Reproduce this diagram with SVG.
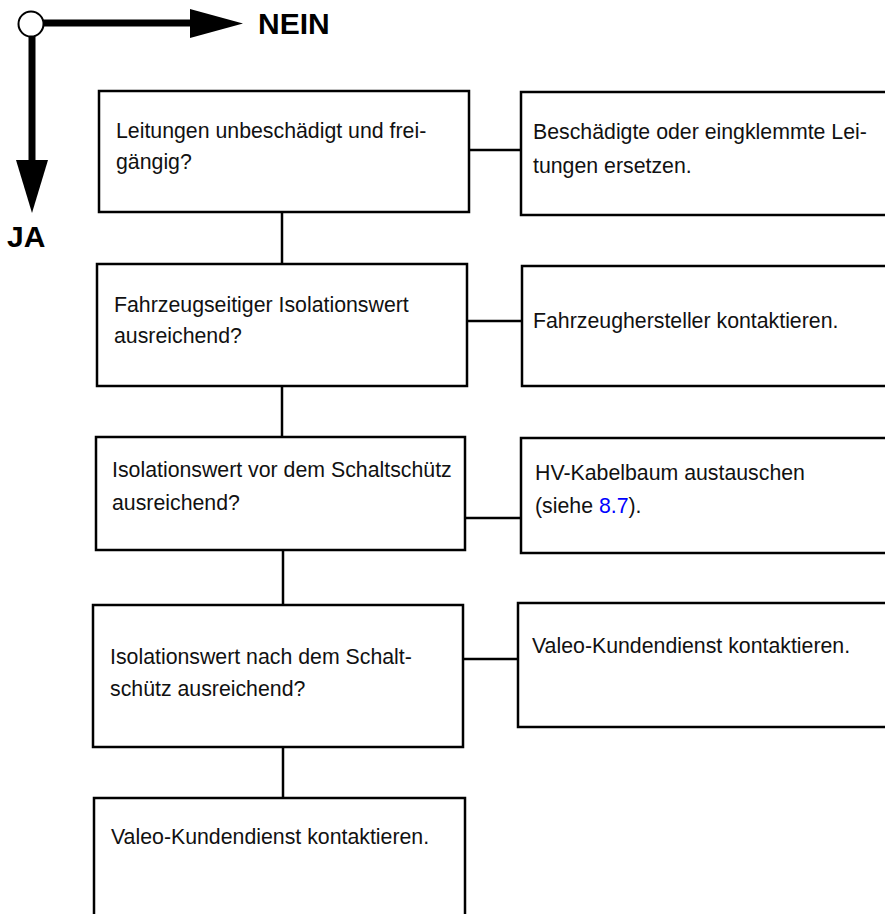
<svg xmlns="http://www.w3.org/2000/svg" width="885" height="914" viewBox="0 0 885 914">
<style>
.box{fill:#fff;stroke:#000;stroke-width:2.5}
.t{font-family:"Liberation Sans",Arial,sans-serif;font-size:21.3px;fill:#111}
.lbl{font-family:"Liberation Sans",Arial,sans-serif;font-size:30px;font-weight:bold;fill:#000}
.c{stroke:#000;stroke-width:2.5;fill:none}
.link{fill:#0000ff}
</style>
<rect width="885" height="914" fill="#fff"/>
<g id="legend">
<line x1="43" y1="23" x2="193" y2="23" stroke="#000" stroke-width="7"/>
<polygon points="190,9 243,23.5 190,38" fill="#000"/>
<line x1="32" y1="35" x2="32" y2="163" stroke="#000" stroke-width="7"/>
<polygon points="16,160 48,160 32,213" fill="#000"/>
<circle cx="31" cy="24" r="12.5" fill="#fff" stroke="#000" stroke-width="2"/>
<text class="lbl" x="258" y="34">NEIN</text>
<text class="lbl" x="7" y="247">JA</text>
</g>
<g id="connectors">
<line class="c" x1="282" y1="212" x2="282" y2="264"/>
<line class="c" x1="469" y1="150" x2="521" y2="150"/>
<line class="c" x1="467" y1="321" x2="522" y2="321"/>
<line class="c" x1="282" y1="386" x2="282" y2="437"/>
<line class="c" x1="465" y1="518" x2="521" y2="518"/>
<line class="c" x1="283" y1="550" x2="283" y2="605"/>
<line class="c" x1="463" y1="659" x2="518" y2="659"/>
<line class="c" x1="283" y1="747" x2="283" y2="798"/>
</g>
<g id="q1">
<rect class="box" x="99" y="91" width="370" height="121"/>
<text class="t" x="116" y="138">Leitungen unbeschädigt und frei-</text>
<text class="t" x="116" y="169">gängig?</text>
</g>
<g id="a1">
<rect class="box" x="521" y="92" width="380" height="123"/>
<text class="t" x="533" y="139">Beschädigte oder eingklemmte Lei-</text>
<text class="t" x="533" y="173">tungen ersetzen.</text>
</g>
<g id="q2">
<rect class="box" x="97" y="264" width="370" height="122"/>
<text class="t" x="114" y="312">Fahrzeugseitiger Isolationswert</text>
<text class="t" x="114" y="343">ausreichend?</text>
</g>
<g id="a2">
<rect class="box" x="522" y="266" width="380" height="120"/>
<text class="t" x="533" y="328">Fahrzeughersteller kontaktieren.</text>
</g>
<g id="q3">
<rect class="box" x="96" y="437" width="369" height="113"/>
<text class="t" x="112" y="477">Isolationswert vor dem Schaltschütz</text>
<text class="t" x="112" y="510">ausreichend?</text>
</g>
<g id="a3">
<rect class="box" x="521" y="438" width="380" height="115"/>
<text class="t" x="535" y="480">HV-Kabelbaum austauschen</text>
<text class="t" x="535" y="513">(siehe <tspan class="link">8.7</tspan>).</text>
</g>
<g id="q4">
<rect class="box" x="93" y="605" width="370" height="142"/>
<text class="t" x="110" y="664">Isolationswert nach dem Schalt-</text>
<text class="t" x="110" y="696">schütz ausreichend?</text>
</g>
<g id="a4">
<rect class="box" x="518" y="603" width="380" height="124"/>
<text class="t" x="532" y="653">Valeo-Kundendienst kontaktieren.</text>
</g>
<g id="end">
<rect class="box" x="94" y="798" width="371" height="140"/>
<text class="t" x="111" y="844">Valeo-Kundendienst kontaktieren.</text>
</g>
</svg>
